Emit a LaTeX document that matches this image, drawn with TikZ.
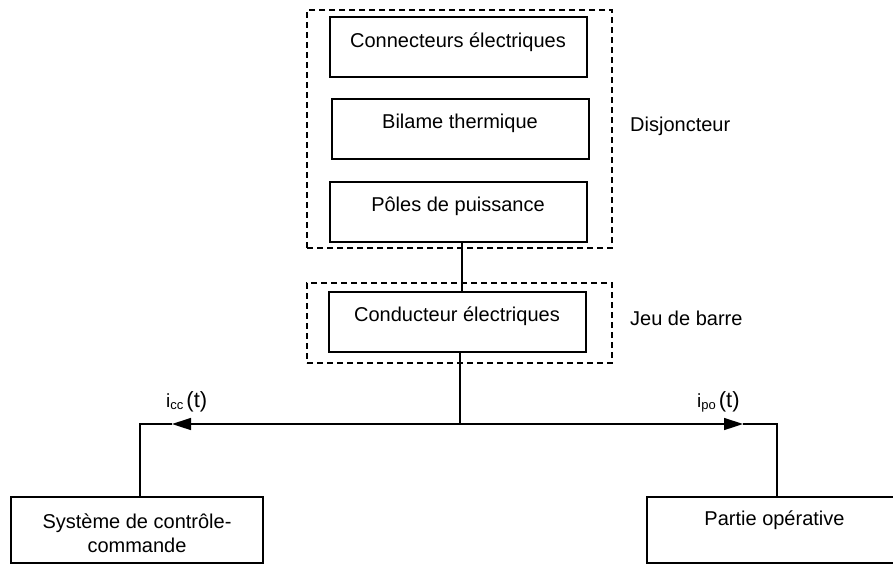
\documentclass[tikz,border=0pt]{standalone}
\usepackage{fontspec}
\setmainfont{Liberation Sans}
\usetikzlibrary{arrows.meta}
\newcommand{\curlab}[1]{{\fontsize{19}{20}\selectfont i}\raisebox{-0.25em}{\fontsize{13}{14}\selectfont #1}\hspace{3pt}{\fontsize{22}{24}\selectfont (t)}}
\begin{document}
\begin{tikzpicture}[x=1pt,y=-1pt,
 box/.style={draw, line width=1.5pt, inner sep=0pt},
 grp/.style={draw, line width=1.5pt, dash pattern=on 6pt off 4pt, inner sep=0pt},
 txt/.style={anchor=base, inner sep=0pt, font=\fontsize{20}{24}\selectfont},
 wire/.style={line width=1.5pt},
 arr/.style={-{Triangle[length=19pt,width=12pt]}}]
\useasboundingbox (0,0) rectangle (893,566);
% groups
\node[grp, minimum width=305pt, minimum height=238pt] (dis) at (459.5,129) {};
\node[grp, minimum width=305pt, minimum height=80pt] (jdb) at (459.5,323) {};
% boxes
\node[box, minimum width=257pt, minimum height=60pt] (b1) at (458.5,47) {};
\node[box, minimum width=257pt, minimum height=60pt] (b2) at (460.5,129) {};
\node[box, minimum width=257pt, minimum height=60pt] (b3) at (458.5,212) {};
\node[box, minimum width=257pt, minimum height=60pt] (b4) at (457.5,322) {};
\node[box, minimum width=252pt, minimum height=66pt] (sys) at (137,530) {};
\node[box, minimum width=255pt, minimum height=66pt] (po) at (774.5,530) {};
% texts
\node[txt] (t1) at (458,47) {Connecteurs électriques};
\node[txt] (t2) at (460,128) {Bilame thermique};
\node[txt] (t3) at (458,211) {Pôles de puissance};
\node[txt] (t4) at (457,321) {Conducteur électriques};
\node[txt, anchor=base west] (tdis) at (630,131) {Disjoncteur};
\node[txt, anchor=base west] (tjdb) at (630,325) {Jeu de barre};
\node[txt, align=center] (tsys) at (137,552) {Système de contrôle-\\commande};
\node[txt] (tpo) at (774.5,525) {Partie opérative};
\node[anchor=base west, inner sep=0pt] (icc) at (166,407) {\curlab{cc}};
\node[anchor=base west, inner sep=0pt] (ipo) at (697,407) {\curlab{po}};
% connectors
\coordinate (p1) at (462,242);
\coordinate (p2) at (462,292);
\coordinate (j) at (460,424);
\coordinate (cL) at (140,424);
\coordinate (cR) at (777,424);
\coordinate (aL) at (172,424);
\coordinate (aR) at (743,424);
\draw[wire] (p1) -- (p2);
\draw[wire] (b4.south -| j) -- (j);
\draw[wire, arr] (j) -- (aL);
\draw[wire] (aL) -- (cL) -- (sys.north -| cL);
\draw[wire, arr] (j) -- (aR);
\draw[wire] (aR) -- (cR) -- (po.north -| cR);
\end{tikzpicture}
\end{document}
